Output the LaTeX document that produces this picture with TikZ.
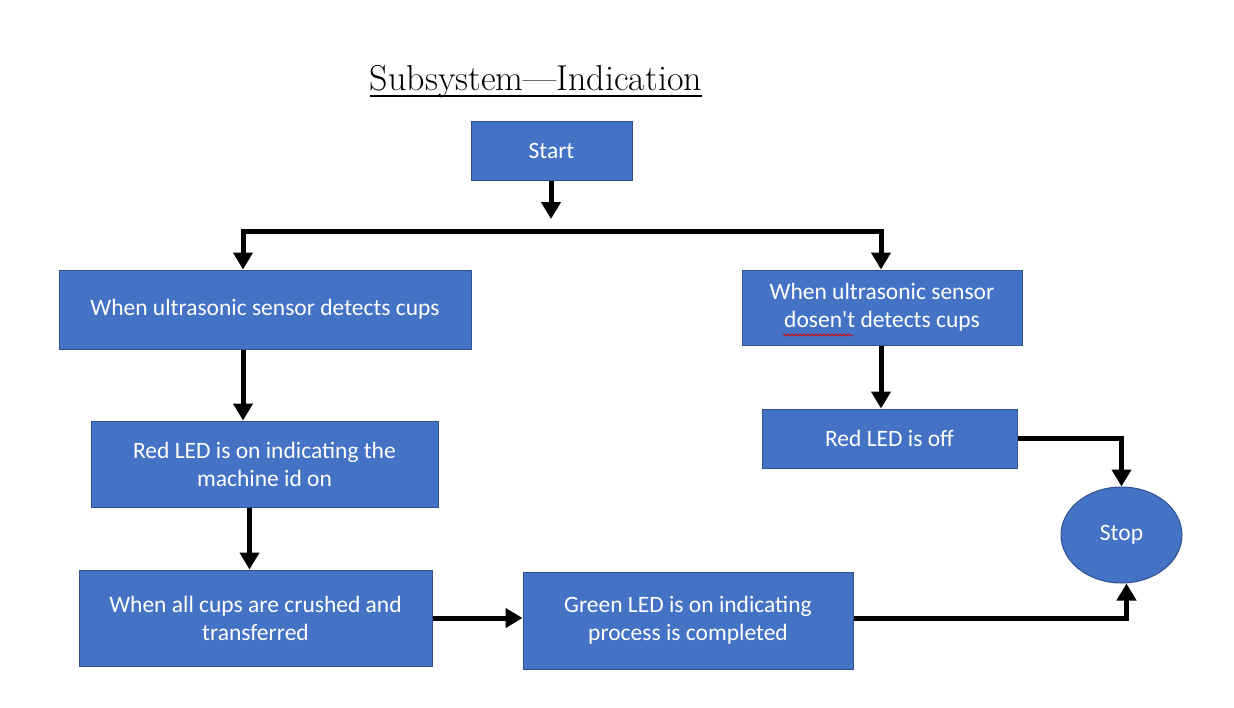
\documentclass[tikz,border=0pt]{standalone}
\usepackage{fontspec}
\newfontfamily\boxfont{Carlito}
\usetikzlibrary{arrows.meta,shapes.geometric,decorations.pathmorphing}
\definecolor{boxfill}{HTML}{4472C4}
\definecolor{boxedge}{HTML}{2F528F}
\begin{document}
\begin{tikzpicture}[x=1pt,y=-1pt,
  stepbox/.style={rectangle,fill=boxfill,draw=boxedge,line width=1pt,
    text=white,align=center,inner sep=0pt,
    font=\boxfont\fontsize{23.5}{28}\selectfont},
  endbox/.style={ellipse,fill=boxfill,draw=boxedge,line width=1pt,
    text=white,inner sep=0pt,font=\boxfont\fontsize{23.5}{28}\selectfont},
  flow/.style={line width=5pt,draw=black},
  arr/.style={flow,-{Triangle[width=19pt,length=17pt]}},
  biarr/.style={flow,{Triangle[width=19pt,length=17pt]}-{Triangle[width=19pt,length=17pt]}}]
\useasboundingbox (0,0) rectangle (1234,707);

% title with its rule
\node[anchor=base,inner sep=0pt] (title) at (536,90) {\fontsize{36}{40}\selectfont Subsystem—Indication};
\draw[line width=2pt] ([yshift=-6pt]title.base west) -- ([yshift=-6pt]title.base east);

% process boxes
\node[stepbox,minimum width=161pt,minimum height=59pt] (start) at (551.5,150.5) {Start};
\node[stepbox,minimum width=412pt,minimum height=79pt] (detect) at (265,309.5) {When ultrasonic sensor detects cups};
\node[stepbox,minimum width=280pt,minimum height=75pt] (nodetect) at (882,307.5) {When ultrasonic sensor\\dosen't detects cups};
\node[stepbox,minimum width=347pt,minimum height=86pt] (redon) at (264.5,464) {Red LED is on indicating the\\machine id on};
\node[stepbox,minimum width=255pt,minimum height=59pt] (redoff) at (889.5,438.5) {Red LED is off};
\node[stepbox,minimum width=353pt,minimum height=96pt] (crushed) at (255.5,618) {When all cups are crushed and\\transferred};
\node[stepbox,minimum width=330pt,minimum height=97pt] (green) at (688,620.5) {Green LED is on indicating\\process is completed};
\node[endbox,minimum width=121pt,minimum height=96pt] (stop) at (1121.5,535) {Stop};

% spelling mark under the misspelt word
\draw[red!85!black,line width=0.8pt,decorate,
  decoration={snake,amplitude=1.1pt,segment length=4pt}] (783,335) -- (853,335);

% split below Start
\coordinate (splitin) at (551,219);
\coordinate (bl) at (243,231);
\coordinate (br) at (881,231);
\draw[arr] (start.south -| splitin) -- (splitin);
\draw[biarr,line join=miter] (bl |- detect.north) -- (bl) -- (br) -- (br |- nodetect.north);

% left column
\draw[arr] (bl |- detect.south) -- (bl |- redon.north);
\draw[arr] ([xshift=-15pt]redon.south) -- ([xshift=-15pt]redon.south |- crushed.north);
\draw[arr] (crushed.east) -- (crushed.east -| green.west);

% right column
\draw[arr] (nodetect.south -| br) -- (br |- redoff.north);
\draw[arr] (redoff.east) -| (stop.north);
\draw[arr] (crushed.east -| green.east) -| ([xshift=5pt]stop.south);
\end{tikzpicture}
\end{document}
